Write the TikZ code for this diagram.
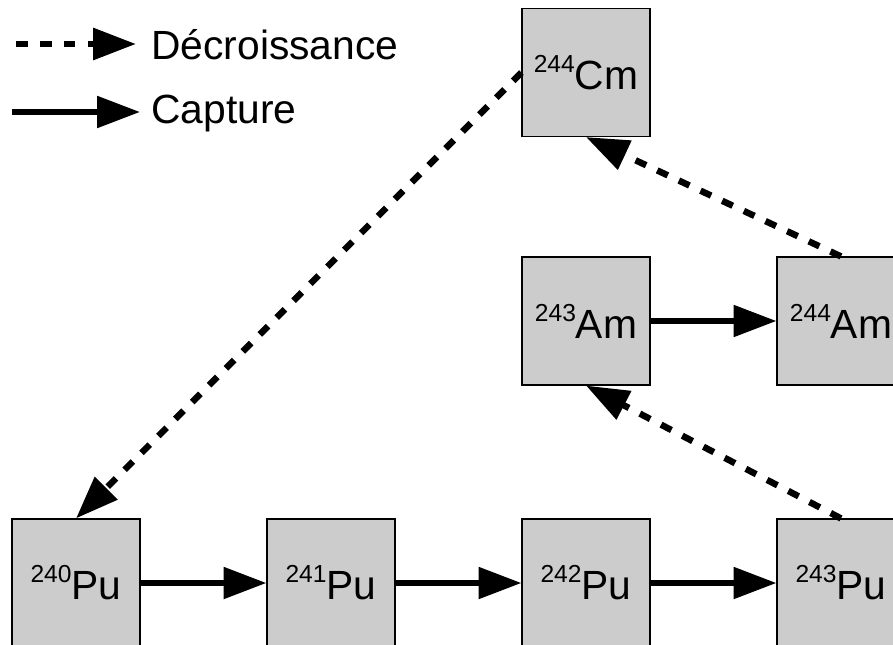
\documentclass[tikz,border=0pt]{standalone}
\usepackage{fontspec}
\setmainfont{Liberation Sans}
\usetikzlibrary{arrows.meta}
\definecolor{boxgray}{HTML}{CCCCCC}
\newcommand\iso[2]{\raisebox{12pt}{\fontsize{17.5}{18}\selectfont #1}#2}

\begin{document}
\begin{tikzpicture}[x=0.025cm, y=-0.025cm,
  nuclide/.style={rectangle, draw, line width=0.8pt, fill=boxgray, minimum width=3.2cm,
    minimum height=3.2cm, inner sep=0pt, font=\fontsize{29}{34}\selectfont},
  legendtext/.style={anchor=base west, inner sep=0pt, font=\fontsize{29}{34}\selectfont},
  capture/.style={line width=4.1pt, -{Triangle[length=1.07cm, width=0.77cm]}},
  decay/.style={capture, line width=4.6pt, dash pattern=on 8.3pt off 8.7pt}]
  \useasboundingbox (0,0) rectangle (893,644);

  % Nodes
  \foreach [evaluate={
    \m=int(\x+240);
    \px=int(76+255*\x);
  }] \x in {0,...,3}{
    \draw (\px,583) node(pu\m) [nuclide] {\iso{\m}{Pu}};
  };
  \draw (586,321) node(am243) [nuclide] {\iso{243}{Am}};
  \draw (841,321) node(am244) [nuclide] {\iso{244}{Am}};
  \draw (586,72.5) node(cm244) [nuclide] {\iso{244}{Cm}};

  % Edges
  \draw[capture] (pu240) -- (pu241);
  \draw[capture] (pu241) -- (pu242);
  \draw[capture] (pu242) -- (pu243);
  \draw[capture] (am243) -- (am244);

  \draw[decay] (pu243.north) -- (am243.south);
  \draw[decay] (am244.north) -- (cm244.south);
  \draw[decay] (cm244.west)  -- (pu240.north);

  % Legend
  \coordinate (decA) at (16,44);
  \coordinate (decB) at (136,44);
  \coordinate (capA) at (12,112);
  \coordinate (capB) at (140,112);
  \draw[decay]   (decA) -- (decB);
  \draw[capture] (capA) -- (capB);
  \draw (151,60)  node(decText) [legendtext] {Décroissance};
  \draw (151,123) node(capText) [legendtext] {Capture};

\end{tikzpicture}
\end{document}
